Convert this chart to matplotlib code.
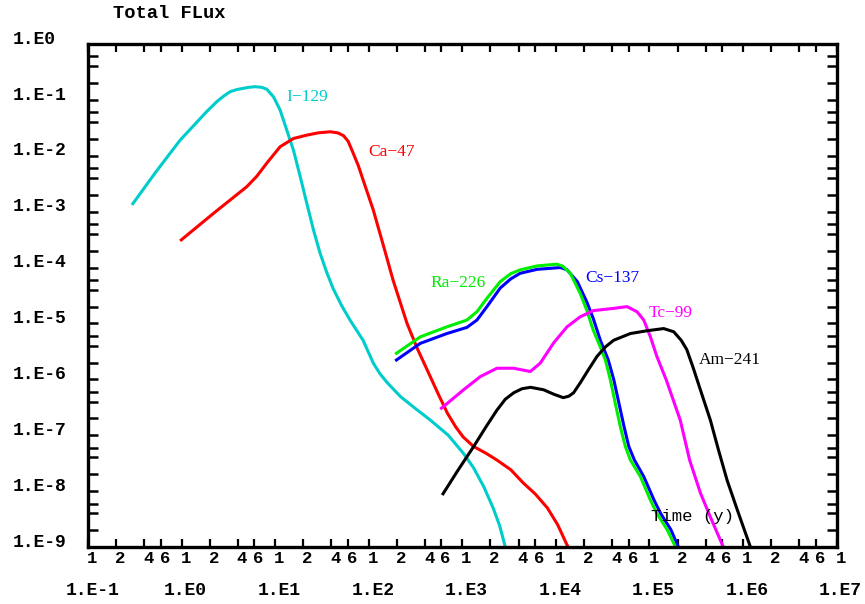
import matplotlib
matplotlib.use("Agg")
import matplotlib.pyplot as plt
from matplotlib.ticker import FixedLocator, NullFormatter, NullLocator

# ---------------- data ----------------
i129_t = [0.295, 0.525, 0.964, 1.86, 2.38, 2.82, 3.30, 3.89, 4.58, 5.25, 6.11, 7.19,
          8.15, 9.59, 11.3, 13.3, 15.7, 18.5, 21.8, 25.7, 30.2, 35.5, 41.7, 51.3, 63.1,
          87.1, 112, 132, 158, 219, 316, 457, 708, 1023, 1318, 1698, 2138, 2512, 2884]
i129_f = [1.32e-3, 5.0e-3, 1.9e-2, 6.2e-2, 9.3e-2, 0.117, 0.140, 0.153, 0.161, 0.168,
          0.172, 0.168, 0.155, 0.114, 6.6e-2, 2.9e-2, 1.26e-2, 4.3e-3, 1.41e-3, 4.7e-4,
          1.82e-4, 8.3e-5, 4.2e-5, 2.1e-5, 1.15e-5, 5.0e-6, 1.95e-6, 1.26e-6, 8.7e-7,
          4.9e-7, 3.0e-7, 1.86e-7, 1.0e-7, 4.8e-8, 2.63e-8, 1.2e-8, 5.0e-9, 2.4e-9, 1e-9]

ca47_t = [0.964, 2.19, 4.98, 6.37, 8.15, 11.3, 15.7, 21.8, 28.8, 38.7, 46.8, 53.8, 60.3,
          68.2, 77.6, 87.1, 112, 145, 182, 257, 331, 427, 550, 692, 851, 1023, 1318,
          1778, 2344, 3311, 4467, 6026, 8128, 10470, 13490]
ca47_f = [3.0e-4, 9.3e-4, 2.8e-3, 4.3e-3, 7.4e-3, 1.45e-2, 2.04e-2, 2.34e-2, 2.57e-2,
          2.69e-2, 2.57e-2, 2.29e-2, 1.82e-2, 1.12e-2, 6.6e-3, 3.7e-3, 1.07e-3, 2.34e-4,
          6.0e-5, 1.0e-5, 3.55e-6, 1.41e-6, 5.6e-7, 2.5e-7, 1.41e-7, 9.3e-8, 6.3e-8,
          4.8e-8, 3.6e-8, 2.4e-8, 1.41e-8, 8.9e-9, 5.0e-9, 2.5e-9, 1e-9]

ra226_t = [192, 356, 686, 1122, 1435, 1837, 2547, 3311, 4169, 6310, 10230, 11750, 14290,
           18200, 21380, 25120, 29510, 33810, 38280, 43250, 48980, 55340, 62660, 80170,
           102600, 120200, 154900, 190500]
ra226_f = [2.82e-6, 5.75e-6, 8.7e-6, 1.15e-5, 1.62e-5, 2.82e-5, 5.6e-5, 7.8e-5, 9.1e-5,
           1.07e-4, 1.15e-4, 1.07e-4, 7.9e-5, 3.47e-5, 1.74e-5, 7.6e-6, 4.0e-6, 2.24e-6,
           9.8e-7, 3.7e-7, 1.41e-7, 6.3e-8, 3.6e-8, 1.82e-8, 6.9e-9, 4.0e-9, 2.04e-9, 1e-9]

cs137_t = [192, 356, 686, 1122, 1435, 1837, 2547, 3311, 4169, 6310, 11220, 13180, 16980,
           21380, 25120, 29920, 36310, 41690, 47320, 53700, 60260, 69180, 87100, 112200,
           131800, 169800, 204200]
cs137_f = [2.14e-6, 4.4e-6, 6.6e-6, 8.5e-6, 1.15e-5, 2.0e-5, 4.3e-5, 6.3e-5, 7.9e-5,
           9.3e-5, 1.0e-4, 9.1e-5, 5.6e-5, 2.45e-5, 1.23e-5, 5.0e-6, 2.24e-6, 9.8e-7,
           3.7e-7, 1.41e-7, 6.3e-8, 3.6e-8, 1.82e-8, 6.9e-9, 4.0e-9, 2.04e-9, 1e-9]

tc99_t = [582, 1033, 1560, 2350, 3540, 5330, 6820, 9490, 13180, 18280, 25350, 41500,
          57680, 73790, 87100, 102600, 120200, 151400, 213800, 269200, 350800, 446700,
          616600]
tc99_f = [2.92e-7, 6.5e-7, 1.12e-6, 1.58e-6, 1.58e-6, 1.38e-6, 1.95e-6, 4.5e-6, 8.7e-6,
          1.32e-5, 1.7e-5, 1.86e-5, 2.0e-5, 1.62e-5, 1.15e-5, 5.75e-6, 2.57e-6, 9.8e-7,
          1.86e-7, 3.6e-8, 9.3e-9, 3.5e-9, 1e-9]

am241_t = [611, 891, 1318, 1778, 2344, 2884, 3548, 4365, 5370, 7413, 9550, 12020, 13800,
           15490, 18280, 21880, 27540, 33880, 41500, 62660, 94400, 142200, 182000,
           218800, 251200, 295100, 350800, 448700, 547000, 676100, 871000, 1202000]
am241_f = [8.5e-9, 2.3e-8, 6.2e-8, 1.38e-7, 2.8e-7, 4.4e-7, 5.75e-7, 6.8e-7, 7.2e-7,
           6.5e-7, 5.4e-7, 4.7e-7, 5.0e-7, 5.75e-7, 8.7e-7, 1.41e-6, 2.57e-6, 3.8e-6,
           5.0e-6, 6.6e-6, 7.4e-6, 8.1e-6, 7.1e-6, 5.0e-6, 3.4e-6, 1.58e-6, 6.5e-7,
           1.86e-7, 5.5e-8, 1.58e-8, 4.6e-9, 1e-9]

series_names = ["I\u2212129", "Ca\u221247", "Ra\u2212226", "Cs\u2212137", "Tc\u221299", "Am\u2212241"]
label_pos = [(13.1, 0.113), (98.9, 1.17e-2), (455, 5.3e-5), (20700, 6.5e-5),
             (97500, 1.54e-5), (334000, 2.22e-6)]

x_decades = [1e-1, 1e0, 1e1, 1e2, 1e3, 1e4, 1e5, 1e6, 1e7]
x_decade_labels = ["1.E-1", "1.E0", "1.E1", "1.E2", "1.E3", "1.E4", "1.E5", "1.E6", "1.E7"]
x_minor_labels = ["1", "2", "4", "6"]
y_decades = [1e0, 1e-1, 1e-2, 1e-3, 1e-4, 1e-5, 1e-6, 1e-7, 1e-8, 1e-9]
y_labels = ["1.E0", "1.E-1", "1.E-2", "1.E-3", "1.E-4", "1.E-5", "1.E-6", "1.E-7",
            "1.E-8", "1.E-9"]
mantissas = [1, 2, 4, 6]

title_text = "Total FLux"
xlabel_text = "Time (y)"

# ---------------- figure ----------------
W, H = 865, 604
fig = plt.figure(figsize=(W / 100, H / 100), dpi=100)
fig.patch.set_facecolor("white")
ax = fig.add_axes([88 / W, 57 / H, 748.5 / W, 503 / H])
ax.set_xscale("log")
ax.set_yscale("log")
ax.set_xlim(1e-1, 1e7)
ax.set_ylim(1e-9, 1e0)

colors = ["#00CCCC", "#FF0000", "#00EE00", "#0000FF", "#FF00FF", "#000000"]
data = [(i129_t, i129_f), (ca47_t, ca47_f), (cs137_t, cs137_f), (ra226_t, ra226_f),
        (tc99_t, tc99_f), (am241_t, am241_f)]
order_colors = [colors[0], colors[1], colors[3], colors[2], colors[4], colors[5]]
for (t, f), c in zip(data, order_colors):
    ax.plot(t, f, color=c, lw=2.2, solid_capstyle="butt", solid_joinstyle="round")

serif = ["Liberation Serif", "DejaVu Serif"]
for name, (px, py), c in zip(series_names, label_pos, colors):
    ax.text(px, py, name, color=c, fontsize=12.5, family=serif, ha="left", va="center")

mono = ["Liberation Mono", "DejaVu Sans Mono"]
ax.text(1.03e5, 3.5e-9, xlabel_text, family=mono, fontsize=12.5, ha="left", va="center",
        color="black")

# ticks
xt = [m * d for d in x_decades[:-1] for m in mantissas] + [x_decades[-1]]
yt = [m * d for d in y_decades[1:] for m in mantissas] + [y_decades[0]]
ax.xaxis.set_major_locator(FixedLocator(xt))
ax.yaxis.set_major_locator(FixedLocator(yt))
ax.xaxis.set_minor_locator(NullLocator())
ax.yaxis.set_minor_locator(NullLocator())
ax.xaxis.set_major_formatter(NullFormatter())
ax.yaxis.set_major_formatter(NullFormatter())
ax.tick_params(axis="x", which="major", direction="in", length=5.5, width=1.6,
               top=True, bottom=True)
ax.tick_params(axis="y", which="major", direction="in", length=7.5, width=1.8,
               left=True, right=True)
for s in ax.spines.values():
    s.set_linewidth(2.4)

# x tick labels (two rows)
xt_labels = x_minor_labels * (len(x_decades) - 1) + [x_minor_labels[0]]
for xv, lab in zip(xt, xt_labels):
    ax.annotate(lab, xy=(xv, 0), xycoords=("data", "axes fraction"),
                xytext=(3, -8.5), textcoords="offset points", ha="center", va="center",
                family=mono, fontweight="bold", fontsize=12.5, annotation_clip=False)
for xv, lab in zip(x_decades, x_decade_labels):
    ax.annotate(lab, xy=(xv, 0), xycoords=("data", "axes fraction"),
                xytext=(3, -31.5), textcoords="offset points", ha="center", va="center",
                family=mono, fontweight="bold", fontsize=13, annotation_clip=False)
# y tick labels
for yv, lab in zip(y_decades, y_labels):
    ax.annotate(lab, xy=(0, yv), xycoords=("axes fraction", "data"),
                xytext=(-54, 3.5), textcoords="offset points", ha="left", va="center",
                family=mono, fontweight="bold", fontsize=13, annotation_clip=False)

fig.text(113 / W, 1 - 13 / H, title_text, family=mono, fontweight="bold", fontsize=13.5,
         ha="left", va="center")

fig.savefig("out.png", dpi=100, facecolor="white")
